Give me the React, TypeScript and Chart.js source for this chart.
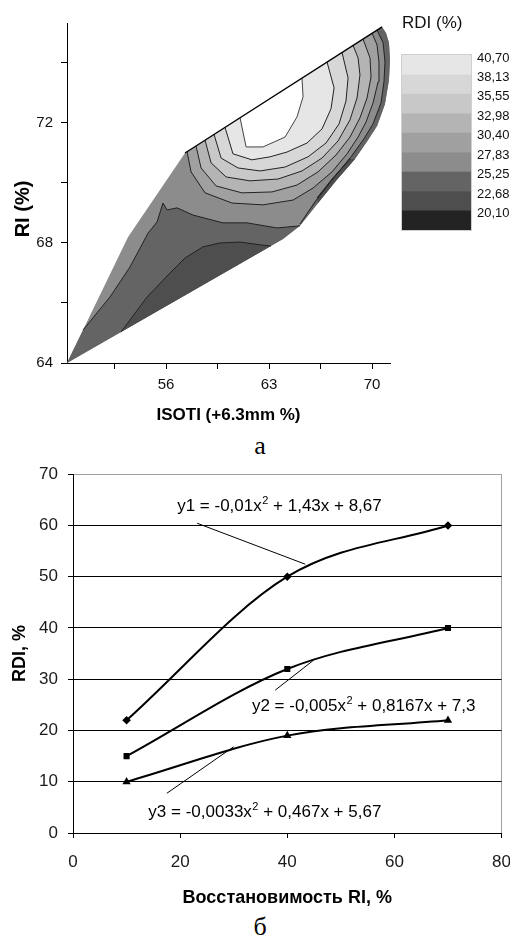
import React, { useEffect, useRef } from 'react';
import { Chart, registerables } from 'chart.js';

Chart.register(...registerables);

type P = [number, number];

// ---------- Figure (a): contour map, x = ISOTI (+6.3mm %), y = RI (%) ----------
// outline of the data region
const hull: P[] = [
  [49.27, 64.0], [52.94, 65.03], [63.95, 68.13], [65.1, 68.57], [66.33, 69.33], [67.55, 70.07],
  [68.84, 70.8], [69.73, 71.43], [70.34, 71.9], [70.88, 72.63], [71.15, 73.43], [71.22, 74.1],
  [71.15, 74.67], [70.95, 75.0], [70.68, 75.2], [57.29, 71.0], [53.42, 68.2],
];
// iso-lines (RDI levels)
const contour2268: P[] = [
  [52.94, 65.03], [54.71, 66.2], [56.27, 67.0], [57.29, 67.5], [58.51, 67.87], [59.67, 68.0],
  [61.03, 68.03], [62.52, 67.93], [63.13, 67.9],
];
const contour2525: P[] = [
  [50.36, 65.1], [52.19, 66.2], [53.55, 67.2], [54.78, 68.33], [55.39, 68.7], [55.79, 69.33],
  [56.07, 69.1], [56.75, 69.17], [57.83, 68.93], [59.87, 68.67], [61.5, 68.67], [63.54, 68.5],
  [65.1, 68.57],
];
const contour2525Edge: P[] = [
  [70.34, 75.09], [70.75, 74.67], [70.88, 74.03], [70.81, 73.37], [70.61, 72.67], [70.07, 71.97],
  [69.45, 71.47], [68.57, 70.87], [67.28, 70.1], [66.12, 69.37], [65.1, 68.63],
];
const contour2268Edge: P[] = [[68.5, 70.8], [67.35, 70.17], [66.26, 69.5]];
const contour2783: P[] = [
  [57.43, 71.04], [57.7, 70.37], [58.65, 69.67], [60.48, 69.33], [62.59, 69.27], [64.63, 69.43],
  [65.99, 69.83], [67.28, 70.37], [68.3, 70.97], [69.05, 71.53], [69.59, 72.03], [70.07, 72.67],
  [70.41, 73.37], [70.47, 74.03], [70.34, 74.6], [70.0, 74.99],
];
const contour3040: P[] = [
  [58.04, 71.23], [58.38, 70.5], [59.4, 69.9], [61.16, 69.67], [63.2, 69.7], [64.9, 69.93],
  [66.33, 70.37], [67.55, 70.93], [68.5, 71.53], [69.18, 72.17], [69.66, 72.83], [69.93, 73.53],
  [69.86, 74.17], [69.39, 74.79],
];
const contour3298: P[] = [
  [58.65, 71.43], [59.06, 70.67], [60.08, 70.2], [61.71, 70.07], [63.61, 70.13], [65.24, 70.4],
  [66.6, 70.83], [67.69, 71.4], [68.5, 72.1], [68.98, 72.83], [69.18, 73.6], [69.05, 74.17],
  [68.71, 74.58],
];
const contour3555: P[] = [
  [59.26, 71.62], [59.74, 70.83], [60.89, 70.5], [62.39, 70.4], [64.09, 70.53], [65.65, 70.87],
  [66.87, 71.33], [67.76, 71.97], [68.23, 72.73], [68.37, 73.5], [67.96, 74.35],
];
const contour3813: P[] = [
  [60.01, 71.85], [60.55, 70.97], [61.84, 70.77], [63.07, 70.87], [64.22, 71.03], [65.58, 71.33],
  [66.6, 71.8], [67.21, 72.47], [67.42, 73.17], [66.94, 74.03],
];
const contour4070: P[] = [
  [61.03, 72.17], [61.44, 71.2], [62.59, 71.2], [64.09, 71.53], [64.9, 72.2], [65.31, 72.87],
  [65.24, 73.49],
];

const legendLabels = ['40,70', '38,13', '35,55', '32,98', '30,40', '27,83', '25,25', '22,68', '20,10'];
const legendColors = ['#e6e6e6', '#d7d7d7', '#c8c8c8', '#b4b4b4', '#a0a0a0', '#8c8c8c', '#646464', '#4e4e4e', '#232323'];

const topXTicks = [52.5, 56, 59.5, 63, 66.5, 70];
const topXLabels = ['', '56', '', '63', '', '70'];
const topYTicks = [64, 66, 68, 70, 72, 74];
const topYLabels = ['64', '', '68', '', '72', ''];

// ---------- Figure (b): RDI vs RI ----------
const riValues = [10, 40, 70];
const y1Values = [22, 50, 60];
const y2Values = [15, 32, 40];
const y3Values = [10, 19, 22];
const seriesNames = ['y1', 'y2', 'y3'];
const eqText: string[][] = [
  ['y1 = -0,01x', '2', ' + 1,43x + 8,67'],
  ['y2 = -0,005x', '2', ' + 0,8167x + 7,3'],
  ['y3 = -0,0033x', '2', ' + 0,467x + 5,67'],
];
// label anchors (data units: left/baseline) and leader lines
const eqAnchor: P[] = [[19.44, 62.77], [33.4, 23.78], [14.07, 3.2]];
const eqLeader: [number, number, number, number][] = [
  [23.18, 60.43, 43.36, 52.44],
  [37.76, 27.88, 44.92, 33.72],
  [17.51, 7.74, 29.97, 16.82],
];

const SANS = '"Liberation Sans", Arial, sans-serif';

const pts = (a: P[]) => a.map(([x, y]) => ({ x, y }));

function fillDs(poly: P[], color: string, order: number) {
  return {
    data: pts(poly), backgroundColor: color, borderColor: color, borderWidth: 0,
    fill: 'shape', pointRadius: 0, order, tension: 0,
  };
}
function lineDs(line: P[], order: number, width = 1, color = '#222') {
  return {
    data: pts(line), borderColor: color, borderWidth: width, fill: false,
    pointRadius: 0, order, tension: 0,
  };
}

function topConfig(): any {
  const datasets: any[] = [
    fillDs(hull, legendColors[5], 100),
    fillDs([...contour2525, hull[2], hull[1], hull[0]], legendColors[6], 95),
    fillDs(contour2268, legendColors[7], 94),
    fillDs([...contour2525Edge, ...hull.slice(3, 15)], legendColors[6], 93),
    fillDs([...hull.slice(4, 7), ...contour2268Edge], legendColors[7], 92),
    fillDs(contour2783, legendColors[4], 80),
    fillDs(contour3040, legendColors[3], 79),
    fillDs(contour3298, legendColors[2], 78),
    fillDs(contour3555, legendColors[1], 77),
    fillDs(contour3813, legendColors[0], 76),
    fillDs(contour4070, '#ffffff', 75),
    lineDs(contour2268, 10),
    lineDs(contour2525, 10),
    lineDs(contour2525Edge, 10),
    lineDs(contour2268Edge, 10),
    lineDs(contour2783, 10),
    lineDs(contour3040, 10),
    lineDs(contour3298, 10),
    lineDs(contour3555, 10),
    lineDs(contour3813, 10),
    lineDs(contour4070, 10, 1, '#444'),
    lineDs([hull[15], hull[14]], 5, 1.3, '#000'),
  ];
  const decor = {
    id: 'topDecor',
    afterDraw(chart: any) {
      const ctx = chart.ctx as CanvasRenderingContext2D;
      ctx.save();
      ctx.fillStyle = '#111';
      ctx.textBaseline = 'middle';
      ctx.textAlign = 'left';
      ctx.font = `17px ${SANS}`;
      ctx.fillText('RDI (%)', 402, 23);
      const top = 55, left = 402, w = 69, h = 175 / legendColors.length;
      legendColors.forEach((c, i) => {
        ctx.fillStyle = c;
        ctx.fillRect(left, top + i * h, w, h + 0.5);
      });
      ctx.strokeStyle = '#cfcfcf';
      ctx.lineWidth = 1;
      ctx.strokeRect(left - 0.5, top - 0.5, w + 1, 176);
      ctx.fillStyle = '#111';
      ctx.font = `13px ${SANS}`;
      legendLabels.forEach((t, i) => ctx.fillText(t, 477, top + i * h + 3));
      ctx.translate(23, 209);
      ctx.rotate(-Math.PI / 2);
      ctx.textAlign = 'center';
      ctx.font = `bold 20px ${SANS}`;
      ctx.fillStyle = '#000';
      ctx.fillText('RI (%)', 0, 0);
      ctx.restore();
    },
  };
  return {
    type: 'line',
    data: { datasets },
    plugins: [decor],
    options: {
      animation: false,
      responsive: false,
      layout: { padding: { top: 23, right: 120, left: 0, bottom: 0 } },
      plugins: { legend: { display: false }, tooltip: { enabled: false } },
      scales: {
        x: {
          type: 'linear', min: 49.27, max: 71.22,
          afterBuildTicks: (s: any) => { s.ticks = topXTicks.map((v) => ({ value: v })); },
          afterFit: (s: any) => { s.height = 67; },
          grid: { drawOnChartArea: false, tickLength: 6, tickColor: '#000' },
          border: { color: '#000', width: 1 },
          ticks: {
            callback: (_v: any, i: number) => topXLabels[i], autoSkip: false, maxRotation: 0,
            padding: 7, color: '#111', font: { family: SANS, size: 15 },
          },
          title: {
            display: true, text: 'ISOTI (+6.3mm %)', color: '#000',
            font: { family: SANS, size: 17, weight: 'bold' }, padding: { top: 0, bottom: 4 },
          },
        },
        y: {
          type: 'linear', min: 64, max: 75.33,
          afterBuildTicks: (s: any) => { s.ticks = topYTicks.map((v) => ({ value: v })); },
          afterFit: (s: any) => { s.width = 67; },
          grid: { drawOnChartArea: false, tickLength: 6, tickColor: '#000' },
          border: { color: '#000', width: 1 },
          ticks: {
            callback: (_v: any, i: number) => topYLabels[i], autoSkip: false,
            padding: 8, color: '#111', font: { family: SANS, size: 15 },
          },
        },
      },
    },
  };
}

function bottomConfig(): any {
  const values = [y1Values, y2Values, y3Values];
  const styles = ['rectRot', 'rect', 'triangle'];
  const radii = [4.3, 4.3, 4.8];
  const datasets = values.map((vals, k) => ({
    label: seriesNames[k],
    data: riValues.map((x, i) => ({ x, y: vals[i] })),
    borderColor: '#000', backgroundColor: '#000', borderWidth: 2,
    cubicInterpolationMode: 'monotone', fill: false,
    pointStyle: styles[k], pointRadius: radii[k], pointBorderWidth: 0,
  }));
  const notes = {
    id: 'eqNotes',
    afterDraw(chart: any) {
      const ctx = chart.ctx as CanvasRenderingContext2D;
      const xs = chart.scales.x, ys = chart.scales.y;
      ctx.save();
      ctx.strokeStyle = '#000';
      ctx.lineWidth = 1;
      eqLeader.forEach(([a, b, c, d]) => {
        ctx.beginPath();
        ctx.moveTo(xs.getPixelForValue(a), ys.getPixelForValue(b));
        ctx.lineTo(xs.getPixelForValue(c), ys.getPixelForValue(d));
        ctx.stroke();
      });
      ctx.fillStyle = '#000';
      ctx.textBaseline = 'alphabetic';
      ctx.textAlign = 'left';
      eqText.forEach((parts, i) => {
        let px = xs.getPixelForValue(eqAnchor[i][0]);
        const py = ys.getPixelForValue(eqAnchor[i][1]);
        ctx.font = `17px ${SANS}`;
        ctx.fillText(parts[0], px, py);
        px += ctx.measureText(parts[0]).width;
        ctx.font = `11px ${SANS}`;
        ctx.fillText(parts[1], px + 0.5, py - 7);
        px += ctx.measureText(parts[1]).width + 0.5;
        ctx.font = `17px ${SANS}`;
        ctx.fillText(parts[2], px, py);
      });
      ctx.restore();
    },
  };
  return {
    type: 'line',
    data: { datasets },
    plugins: [notes],
    options: {
      animation: false,
      responsive: false,
      layout: { padding: { top: 0, right: 0, left: 0, bottom: 0 } },
      plugins: { legend: { display: false }, tooltip: { enabled: false } },
      scales: {
        x: {
          type: 'linear', min: 0, max: 80,
          afterFit: (s: any) => { s.height = 77; },
          grid: {
            drawOnChartArea: true, tickLength: 5, tickColor: '#000',
            color: (c: any) => (c.tick && c.tick.value === 80 ? '#a0a0a0' : 'rgba(0,0,0,0)'),
          },
          border: { color: '#000', width: 1 },
          ticks: { stepSize: 20, padding: 14, color: '#1a1a1a', font: { family: SANS, size: 17 }, maxRotation: 0 },
          title: {
            display: true, text: 'Восстановимость RI, %', color: '#000',
            font: { family: SANS, size: 18, weight: 'bold' }, padding: { top: 0, bottom: 1 },
          },
        },
        y: {
          type: 'linear', min: 0, max: 70,
          afterFit: (s: any) => { s.width = 73; },
          grid: {
            tickLength: 5, tickColor: '#000',
            color: (c: any) => (c.tick && c.tick.value === 70 ? '#a0a0a0' : '#000'),
          },
          border: { color: '#000', width: 1 },
          ticks: { stepSize: 10, padding: 10, color: '#1a1a1a', font: { family: SANS, size: 17 } },
          title: {
            display: true, text: 'RDI, %', color: '#000',
            font: { family: SANS, size: 18, weight: 'bold' }, padding: { top: 9, bottom: 0 },
          },
        },
      },
    },
  };
}

export default function App() {
  const topRef = useRef<HTMLCanvasElement>(null);
  const botRef = useRef<HTMLCanvasElement>(null);
  useEffect(() => {
    const c1 = new Chart(topRef.current as HTMLCanvasElement, topConfig());
    const c2 = new Chart(botRef.current as HTMLCanvasElement, bottomConfig());
    return () => { c1.destroy(); c2.destroy(); };
  }, []);
  const serif = '26px "Liberation Serif", "DejaVu Serif", serif';
  return (
    <div style={{ position: 'absolute', left: 0, top: 0, width: 510, height: 938, background: '#fff', overflow: 'hidden' }}>
      <canvas ref={topRef} width={510} height={430} style={{ position: 'absolute', left: 0, top: 0 }} />
      <div style={{ position: 'absolute', left: 0, top: 433, width: 520, textAlign: 'center', font: serif, lineHeight: '26px' }}>а</div>
      <canvas ref={botRef} width={525} height={456} style={{ position: 'absolute', left: 0, top: 454 }} />
      <div style={{ position: 'absolute', left: 0, top: 914, width: 520, textAlign: 'center', font: serif, lineHeight: '26px' }}>б</div>
    </div>
  );
}
